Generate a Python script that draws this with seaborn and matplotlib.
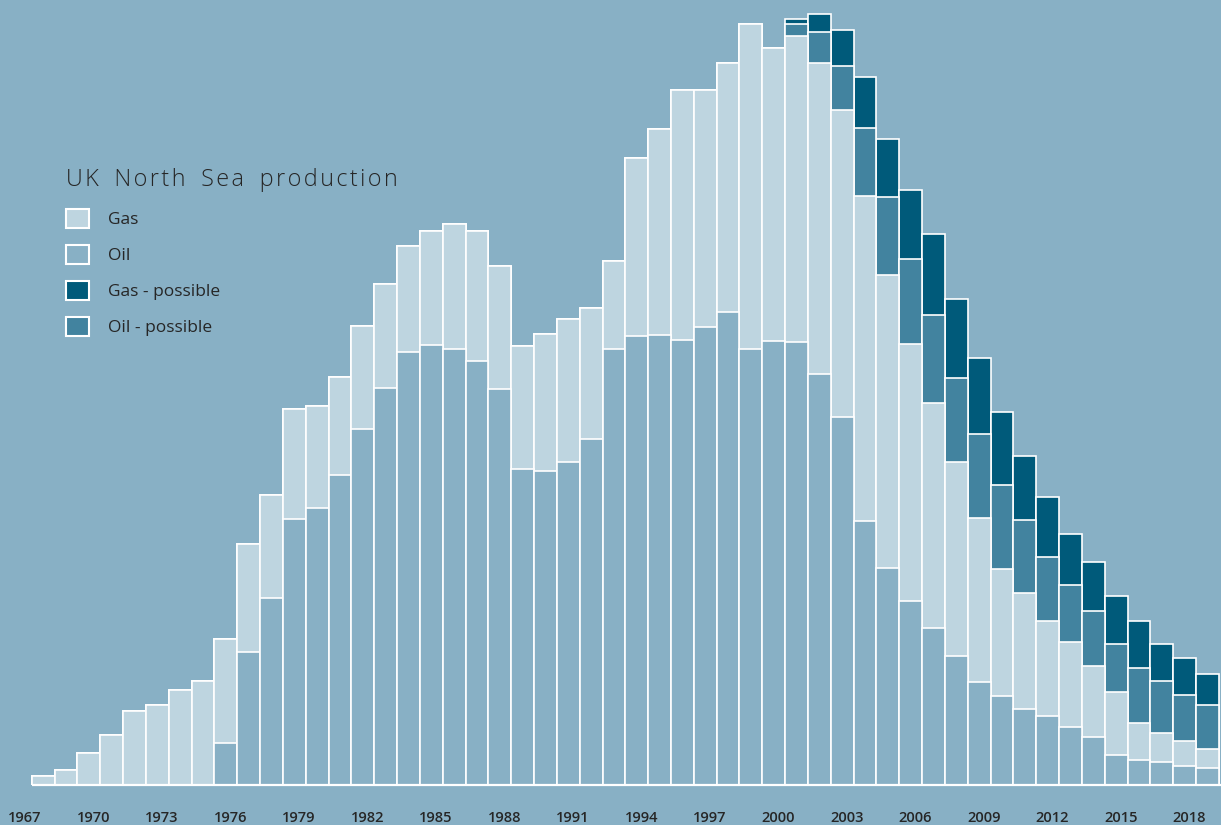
import matplotlib
matplotlib.use("Agg")
import pandas as pd
import matplotlib.pyplot as plt
from matplotlib.patches import Patch
import seaborn as sns

# UK North Sea production, million tonnes of oil equivalent
years = list(range(1968, 2020))
gas = [2.6, 4.4, 9.7, 15.0, 22.1, 23.9, 28.6, 31.3,
       31.3, 32.5, 30.9, 33.0, 30.8, 29.6, 30.8, 31.3, 31.7, 34.2,
       37.6, 38.9, 36.9, 36.8, 41.1, 42.9, 39.4, 26.6, 53.5, 62.0,
       74.9, 71.0, 74.7, 97.4, 88.0, 91.9, 93.3, 92.0, 97.5, 87.7,
       77.0, 67.3, 58.2, 49.2, 38.1, 35.0, 28.6, 25.3, 21.3, 18.9,
       11.1, 8.6, 7.4, 5.6]
oil_from_1976 = [12.5, 39.8, 56.0, 79.8, 83.0, 92.9, 106.9, 119.1, 130.0, 132.1,
                 130.7, 127.2, 118.9, 94.8, 94.2, 96.9, 103.8, 130.7, 134.6, 134.9,
                 133.5, 137.4, 141.9, 130.9, 133.2, 132.9, 123.4, 110.5, 79.2, 65.2,
                 55.3, 47.2, 38.7, 30.8, 26.7, 22.7, 20.6, 17.5, 14.4, 9.0,
                 7.4, 6.9, 5.8, 5.1]
oil_possible_from_2001 = [3.4, 9.3, 13.3, 20.3, 23.6, 25.4, 26.5, 25.3, 25.2, 25.3,
                          21.9, 19.3, 17.1, 16.5, 14.4, 16.6, 15.8, 13.7, 13.3]
gas_possible_from_2001 = [1.7, 5.2, 10.7, 15.3, 17.4, 20.9, 24.4, 23.5, 23.0, 21.9,
                          19.1, 17.8, 15.3, 14.8, 14.5, 14.0, 11.0, 11.1, 9.3]
tick_years = list(range(1967, 2019, 3))

BG = "#88b0c5"
COLORS = {"Gas": "#bed5e0", "Oil": BG, "Gas - possible": "#005a7a", "Oil - possible": "#42839f"}
INK = "#262626"

df = pd.DataFrame({"year": years, "Gas": gas})
df["Oil"] = [0.0] * (1976 - 1968) + oil_from_1976
df["Oil - possible"] = [0.0] * (2001 - 1968) + oil_possible_from_2001
df["Gas - possible"] = [0.0] * (2001 - 1968) + gas_possible_from_2001

# cumulative tops, stacking order from the bottom: oil, gas, oil possible, gas possible
df["top_oil"] = df["Oil"]
df["top_gas"] = df["top_oil"] + df["Gas"]
df["top_oilp"] = df["top_gas"] + df["Oil - possible"]
df["top_gasp"] = df["top_oilp"] + df["Gas - possible"]

sns.set_style("white")
plt.rcParams["font.family"] = ["Open Sans", "DejaVu Sans"]

fig = plt.figure(figsize=(12.21, 8.25), dpi=100, facecolor=BG)
ax = fig.add_axes([0, 40 / 825, 1, 785 / 825])
ax.set_facecolor(BG)

layers = [("top_gasp", "Gas - possible"), ("top_oilp", "Oil - possible"),
          ("top_gas", "Gas"), ("top_oil", "Oil")]
for col, name in layers:
    sns.barplot(data=df, x="year", y=col, native_scale=True, width=1,
                color=COLORS[name], saturation=1, edgecolor="white",
                linewidth=1.2, errorbar=None, ax=ax)

ax.hlines(0, years[0] - 0.5, years[-1] + 1.5, color="white", lw=1.6, clip_on=False, zorder=5)

ax.set_xlim(1966.11, 2019.59)
ax.set_ylim(0, 235.5)
ax.set_xlabel("")
ax.set_ylabel("")
ax.set_yticks([])
ax.set_xticks([y + 0.2 for y in tick_years])
ax.set_xticklabels([str(y) for y in tick_years], fontsize=10.5,
                   fontweight="semibold", color=INK)
ax.tick_params(axis="x", length=0, pad=18.5)
sns.despine(ax=ax, left=True, bottom=True)

handles = [Patch(facecolor=COLORS[n], edgecolor="white", linewidth=1.5, label=n)
           for n in ["Gas", "Oil", "Gas - possible", "Oil - possible"]]
title = "\u200a".join("UK North Sea production").replace(" ", " \u200a\u200a")
leg = ax.legend(handles=handles, loc="upper left",
                bbox_to_anchor=(66 / 1221, 1 - 168 / 825), bbox_transform=fig.transFigure,
                frameon=False, fontsize=12.5, title=title, alignment="left",
                title_fontproperties={"size": 16.8, "weight": "light"},
                handlelength=1.32, handleheight=1.32, handletextpad=1.1,
                labelspacing=0.96, borderpad=0, borderaxespad=0)
leg.get_title().set_color(INK)
for t in leg.get_texts():
    t.set_color(INK)

fig.savefig("out.png", dpi=100, facecolor=BG)
